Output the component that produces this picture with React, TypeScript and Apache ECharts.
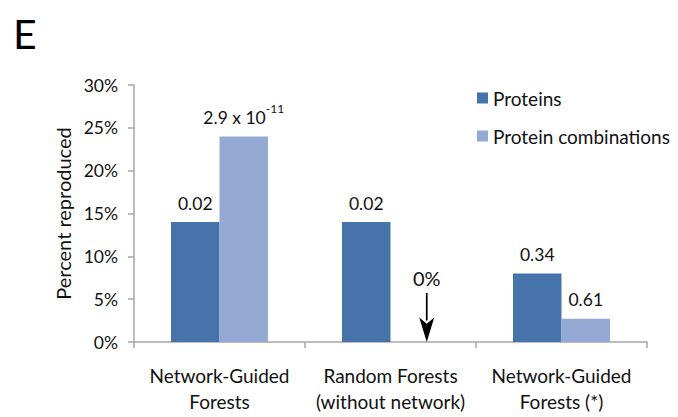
import React, { useEffect, useRef } from "react";
import * as echarts from "echarts";

const categories = ["Network-Guided\nForests", "Random Forests\n(without network)", "Network-Guided\nForests (*)"];
const proteins = [14, 14, 8];
const combinations = [24, 0, 2.7];
const proteinLabels = ["0.02", "0.02", "0.34"];
const combinationLabels = ["{b|2.9 x 10}{s|-11}", "", "0.61"];
const zeroNote = "0%";
const yTicks = { min: 0, max: 30, interval: 5 };

const FONT = "Lato";
const arrowPath =
  "path://M6.2 0 H7.8 V27 H6.2 Z M0 24 L7 48 L14 24 L7 30 Z";

export default function App() {
  const ref = useRef<HTMLDivElement>(null);
  useEffect(() => {
    if (!ref.current) return;
    const chart = echarts.init(ref.current, undefined, { renderer: "svg" });
    chart.setOption({
      animation: false,
      backgroundColor: "#ffffff",
      textStyle: { fontFamily: FONT, color: "#111" },
      graphic: [
        {
          type: "text",
          left: 13,
          top: 13,
          style: { text: "E", fontSize: 41, fontFamily: FONT, fill: "#000" },
        },
      ],
      legend: {
        orient: "vertical",
        left: 472,
        top: 83,
        itemWidth: 11,
        itemHeight: 11,
        itemGap: 18,
        icon: "rect",
        textStyle: { fontSize: 19, fontFamily: FONT, color: "#111", lineHeight: 20 },
        data: ["Proteins", "Protein combinations"],
      },
      grid: { left: 134, right: 31, top: 85, bottom: 75 },
      xAxis: {
        type: "category",
        data: categories,
        axisLine: { lineStyle: { color: "#a6a6a6", width: 1.5 } },
        axisTick: { show: true, length: 6, lineStyle: { color: "#a6a6a6", width: 1.5 } },
        axisLabel: { fontSize: 19, fontFamily: FONT, color: "#111", lineHeight: 26, margin: 20, interval: 0 },
      },
      yAxis: {
        type: "value",
        min: yTicks.min,
        max: yTicks.max,
        interval: yTicks.interval,
        name: "Percent reproduced",
        nameLocation: "middle",
        nameGap: 59,
        nameRotate: 90,
        nameTextStyle: { fontSize: 20, fontFamily: FONT, color: "#111" },
        splitLine: { show: false },
        axisLine: { show: true, lineStyle: { color: "#a6a6a6", width: 1.5 } },
        axisTick: { show: true, length: 6, lineStyle: { color: "#a6a6a6", width: 1.5 } },
        axisLabel: { fontSize: 17.5, fontFamily: FONT, color: "#111", margin: 16, formatter: (v: number) => `${v}%` },
      },
      series: [
        {
          name: "Proteins",
          type: "bar",
          barWidth: 48.5,
          barGap: "0%",
          itemStyle: { color: "#4673aa" },
          data: proteins.map((v, i) => ({
            value: v,
            label: { show: true, position: "top", distance: 10, formatter: proteinLabels[i], fontSize: 17.5, fontFamily: FONT, color: "#111" },
          })),
        },
        {
          name: "Protein combinations",
          type: "bar",
          barWidth: 48.5,
          itemStyle: { color: "#94a9d4" },
          data: combinations.map((v, i) => ({
            value: v,
            label: {
              show: combinationLabels[i] !== "",
              position: "top",
              distance: 10,
              formatter: combinationLabels[i],
              fontSize: 17.5,
              fontFamily: FONT,
              color: "#111",
              rich: {
                b: { fontSize: 17.5, fontFamily: FONT, color: "#111", lineHeight: 24, verticalAlign: "bottom" },
                s: { fontSize: 12, fontFamily: FONT, color: "#111", lineHeight: 12, verticalAlign: "top" },
              },
            },
          })),
          markPoint: {
            silent: true,
            data: [
              {
                coord: [1, 0],
                symbol: arrowPath,
                symbolSize: [15, 49],
                symbolOffset: [12, -24.5],
                itemStyle: { color: "#000" },
                label: { show: true, position: "top", distance: 5, formatter: zeroNote, fontSize: 20, fontFamily: FONT, color: "#111" },
              },
            ],
          },
        },
      ],
    });
    return () => chart.dispose();
  }, []);
  return <div ref={ref} style={{ width: 678, height: 417, marginLeft: -8, marginTop: -8 }} />;
}
